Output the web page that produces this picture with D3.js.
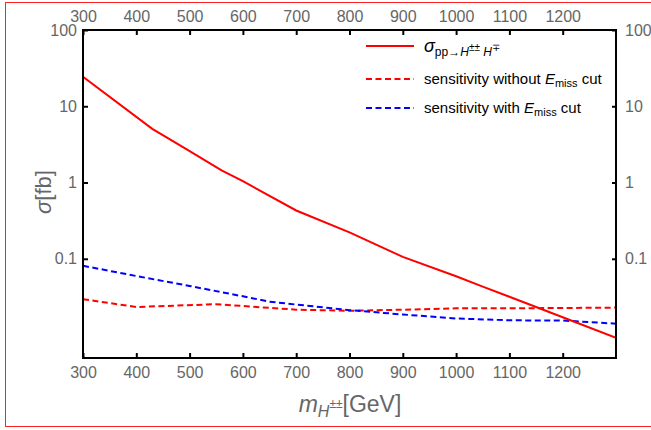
<!DOCTYPE html>
<html><head><meta charset="utf-8">
<script src="https://cdn.jsdelivr.net/npm/d3@7"></script>
<style>body{margin:0;background:#fff}svg{display:block}text{font-family:"Liberation Sans",Arial,sans-serif}</style>
</head><body><svg id="c" width="651" height="430"></svg>
<script>
const xTicks = [300,400,500,600,700,800,900,1000,1100,1200];
const yTicks = [100,10,1,0.1];
const yTickLabels = ["100","10","1","0.1"];

const massSigma = [300,430,490,560,600,700,800,900,1000,1050,1100,1200,1300];
const sigma     = [24.3,5.05,2.85,1.44,1.04,0.43,0.222,0.106,0.059,0.0432,0.0318,0.0171,0.00923];

const massNoCut = [300,400,550,700,800,900,1000,1100,1300];
const sensNoCut = [0.0295,0.0233,0.0254,0.0215,0.0208,0.0215,0.0224,0.0224,0.0229];

const massCut = [300,400,500,600,650,700,800,900,1000,1100,1200,1300];
const sensCut = [0.081,0.0594,0.044,0.0322,0.0274,0.0251,0.0212,0.0186,0.0165,0.0156,0.0155,0.0141];

const svg = d3.select("#c");
const L=83,R=616,T=30,B=358;
const x = d3.scaleLinear().domain([300,1300]).range([L,R]);
const y = d3.scaleLog().domain([0.005,100]).range([B,T]);
const gray="#666";

svg.append("rect").attr("x",5.5).attr("y",2.5).attr("width",700).attr("height",424)
  .attr("fill","none").attr("stroke","#f22").attr("stroke-width",1);

const clip = svg.append("clipPath").attr("id","clp").append("rect")
  .attr("x",L).attr("y",T).attr("width",R-L).attr("height",B-T);
const g = svg.append("g").attr("clip-path","url(#clp)");

const line = (xs,ys)=>d3.line().x((d,i)=>x(xs[i])).y((d,i)=>y(ys[i]))(ys);

g.append("path").attr("d",line(massNoCut,sensNoCut)).attr("fill","none")
  .attr("stroke","#f00").attr("stroke-width",2).attr("stroke-dasharray","6,3.5");
g.append("path").attr("d",line(massCut,sensCut)).attr("fill","none")
  .attr("stroke","#00f").attr("stroke-width",2).attr("stroke-dasharray","6,3.5");
g.append("path").attr("d",line(massSigma,sigma)).attr("fill","none")
  .attr("stroke","#f00").attr("stroke-width",2);

// axes
const axB = d3.axisBottom(x).tickValues(xTicks).tickSize(-5).tickPadding(9).tickFormat(d3.format("d"));
const axT = d3.axisTop(x).tickValues(xTicks).tickSize(-5).tickPadding(8).tickFormat(d3.format("d"));
const axL = d3.axisLeft(y).tickValues(yTicks).tickSize(-5).tickPadding(6).tickFormat((d,i)=>yTickLabels[i]);
const axR = d3.axisRight(y).tickValues(yTicks).tickSize(-4).tickPadding(9).tickFormat((d,i)=>yTickLabels[i]);
function style(sel){
  sel.select(".domain").remove();
  sel.selectAll(".tick line").attr("stroke","#000").attr("stroke-width",2);
  sel.selectAll(".tick text").attr("fill",gray).attr("font-size",16).attr("font-family","Liberation Sans, Arial, sans-serif");
}
svg.append("g").attr("transform",`translate(0,${B})`).call(axB).call(style);
svg.append("g").attr("transform",`translate(0,${T})`).call(axT).call(style);
svg.append("g").attr("transform",`translate(${L},0)`).call(axL).call(style);
svg.append("g").attr("transform",`translate(${R},0)`).call(axR).call(style);

svg.append("rect").attr("x",L).attr("y",T).attr("width",R-L).attr("height",B-T)
  .attr("fill","none").attr("stroke","#000").attr("stroke-width",2);

// axis titles
const yt = svg.append("text").attr("transform","translate(51,192) rotate(-90)")
  .attr("text-anchor","middle").attr("fill",gray).attr("font-size",22);
yt.append("tspan").attr("font-style","italic").text("σ");
yt.append("tspan").text("[fb]");

const xt = svg.append("text").attr("x",350).attr("y",412).attr("text-anchor","middle")
  .attr("fill",gray).attr("font-size",23);
xt.append("tspan").attr("font-style","italic").text("m");
xt.append("tspan").attr("font-style","italic").attr("font-size",16).attr("dy",5).text("H");
xt.append("tspan").attr("font-size",12).attr("dy",-9).text("±±");
xt.append("tspan").attr("dy",4).text("[GeV]");

// legend
const lx1=366,lx2=414,tx=424;
const rows=[46,79,108];
svg.append("line").attr("x1",lx1).attr("x2",lx2).attr("y1",rows[0]).attr("y2",rows[0]).attr("stroke","#f00").attr("stroke-width",2);
svg.append("line").attr("x1",lx1).attr("x2",lx2).attr("y1",rows[1]).attr("y2",rows[1]).attr("stroke","#f00").attr("stroke-width",2).attr("stroke-dasharray","6,3.5");
svg.append("line").attr("x1",lx1).attr("x2",lx2).attr("y1",rows[2]).attr("y2",rows[2]).attr("stroke","#00f").attr("stroke-width",2).attr("stroke-dasharray","6,3.5");

const t1 = svg.append("text").attr("x",tx).attr("y",rows[0]+6).attr("fill","#000").attr("font-size",18);
t1.append("tspan").attr("font-style","italic").text("σ");
t1.append("tspan").attr("font-size",12).attr("dy",4).text("pp→");
t1.append("tspan").attr("font-size",12).attr("font-style","italic").text("H");
t1.append("tspan").attr("font-size",10).attr("dy",-5).text("±±");
t1.append("tspan").attr("font-size",12).attr("font-style","italic").attr("dy",5).text(" H");
t1.append("tspan").attr("font-size",10).attr("dy",-5).text("∓");

function sensRow(yy,pre){
  const t = svg.append("text").attr("x",tx).attr("y",yy+5).attr("fill","#000").attr("font-size",15);
  t.append("tspan").text(pre);
  t.append("tspan").attr("font-style","italic").text("E");
  t.append("tspan").attr("font-size",11).attr("dy",3).text("miss");
  t.append("tspan").attr("dy",-3).text(" cut");
}
sensRow(rows[1],"sensitivity without ");
sensRow(rows[2],"sensitivity with ");
</script></body></html>
